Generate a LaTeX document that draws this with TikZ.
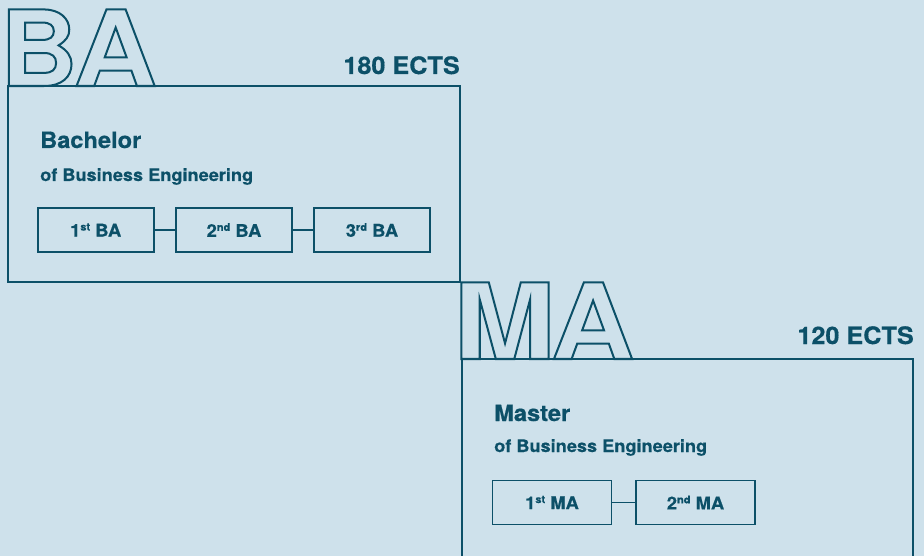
\documentclass[tikz,border=0pt]{standalone}
\usepackage{fontspec}
\setmainfont{TeX Gyre Heros}[FakeStretch=1.05,BoldFeatures={FakeBold=0.5}]
\newfontfamily\bigB{TeX Gyre Heros Bold}[FakeStretch=1.02]
\newfontfamily\bigA{TeX Gyre Heros Bold}[FakeStretch=1.10]
\newfontfamily\bigM{TeX Gyre Heros Bold}[FakeStretch=1.17]
\definecolor{ink}{RGB}{12,80,104}
\definecolor{bg}{RGB}{206,225,235}
\newcommand{\outlinetext}[1]{\special{pdf:literal direct 1 Tr 2 w}#1\special{pdf:literal direct 0 Tr}}
\newcommand{\ordsup}[1]{{\fontsize{10.5}{10}\selectfont\raisebox{6pt}{#1}}}
\begin{document}
\begin{tikzpicture}[x=1pt,y=-1pt,
  frame/.style={draw=ink,line width=1.8pt},
  bigletters/.style={inner sep=0pt,anchor=base west,text=ink,font=\fontsize{105}{110}\selectfont},
  ects/.style={inner sep=0pt,anchor=base east,text=ink,font=\bfseries\fontsize{24}{26}\selectfont},
  title/.style={inner sep=0pt,anchor=base west,text=ink,font=\bfseries\fontsize{22.5}{26}\selectfont},
  subtitle/.style={inner sep=0pt,anchor=base west,text=ink,font=\bfseries\fontsize{17.3}{20}\selectfont},
  yearbox/.style={draw=ink,line width=1.6pt,minimum height=44pt,inner sep=0pt,text=ink,font=\bfseries\fontsize{17.5}{20}\selectfont},
  link/.style={draw=ink,line width=1.6pt}]
\useasboundingbox (0,0) rectangle (924,556);
\fill[bg] (0,0) rectangle (924,556);
\clip (0,0) rectangle (924,556);

% Bachelor block
\draw[frame] (8,86) rectangle (460,282);
\node[bigletters] (balabel) at (0,86) {\outlinetext{{\bigB B}\kern-4pt{\bigA A}}};
\node[ects] (baects) at (460,74) {180 ECTS};
\node[title] (batitle) at (40,148) {Bachelor};
\node[subtitle] (basub) at (40,181) {of Business Engineering};
\node[yearbox,minimum width=116pt] (ba1) at (95.7,230) {1\ordsup{st} BA};
\node[yearbox,minimum width=116pt] (ba2) at (234,230) {2\ordsup{nd} BA};
\node[yearbox,minimum width=116pt] (ba3) at (372,230) {3\ordsup{rd} BA};
\draw[link] (ba1.east) -- (ba2.west);
\draw[link] (ba2.east) -- (ba3.west);

% Master block
\draw[frame] (462,359) rectangle (913,620);
\node[bigletters] (malabel) at (453,359) {\outlinetext{{\bigM M}\kern-4.6pt{\bigA A}}};
\node[ects] (maects) at (914,344) {120 ECTS};
\node[title] (matitle) at (494,421) {Master};
\node[subtitle] (masub) at (494,452) {of Business Engineering};
\node[yearbox,minimum width=119pt] (ma1) at (552,502.5) {1\ordsup{st} MA};
\node[yearbox,minimum width=119pt] (ma2) at (695.5,502.5) {2\ordsup{nd} MA};
\draw[link] (ma1.east) -- (ma2.west);
\end{tikzpicture}
\end{document}
